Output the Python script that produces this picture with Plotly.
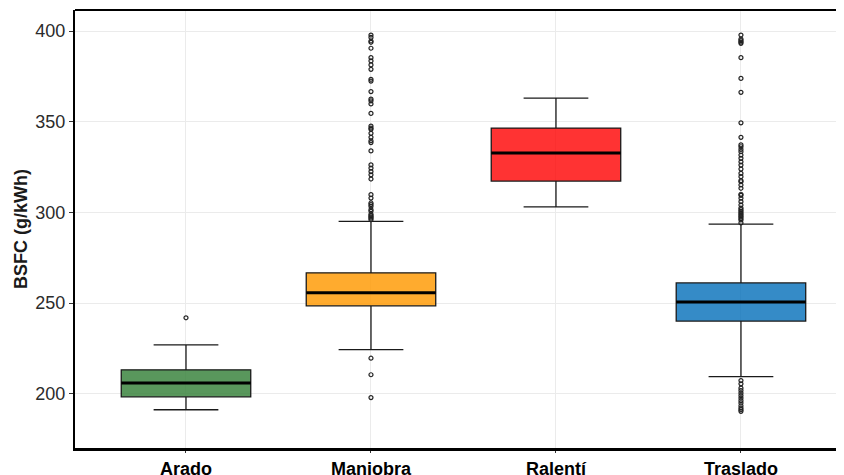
import plotly.graph_objects as go

categories = ["Arado", "Maniobra", "Ralentí", "Traslado"]
q1 = [198.3, 248.5, 317.3, 240.1]
median = [206.0, 255.7, 332.7, 250.6]
q3 = [213.2, 266.7, 346.5, 261.1]
lower_whisker = [191.2, 224.3, 303.0, 209.5]
upper_whisker = [227.0, 295.0, 363.0, 293.5]

outliers_arado = [241.9]
outliers_maniobra = [397.8, 396.5, 394.5, 393.8, 390.5, 385.3, 383.5, 381.3, 378.9, 373.4,
                     372.4, 366.6, 362.5, 361.5, 359.8, 354.6, 347.6, 346.5, 345.8, 343.6,
                     341.4, 339.5, 338.5, 333.9, 326.2, 324.4, 322.5, 320.7, 318.4, 309.8,
                     307.9, 305.2, 304.3, 303.3, 301.5, 300.6, 299.0, 298.2, 297.5, 296.8,
                     296.0, 219.6, 210.5, 197.9]
outliers_ralenti = []
outliers_traslado = [397.8, 395.5, 394.7, 393.9, 393.2, 385.3, 373.9, 366.2, 349.4, 341.4,
                     337.2, 336.2, 334.8, 333.5, 331.6, 329.8, 327.9, 326.1, 323.9, 321.5,
                     319.7, 317.5, 316.9, 315.1, 313.3, 310.0, 309.4, 307.8, 305.9, 304.1,
                     302.4, 301.5, 300.6, 299.8, 299.0, 298.2, 297.4, 296.6, 295.8, 294.2,
                     207.3, 205.5, 203.1, 201.8, 200.4, 199.0, 197.6, 196.2, 194.9, 193.4,
                     192.1, 191.2, 190.3]
outliers = [outliers_arado, outliers_maniobra, outliers_ralenti, outliers_traslado]

fill_colors = ["rgba(52,128,56,0.82)", "rgba(255,152,0,0.82)",
               "rgba(255,0,0,0.80)", "rgba(2,110,185,0.80)"]

y_ticks = [200, 250, 300, 350, 400]
box_width = 0.7

fig = go.Figure()
for i, cat in enumerate(categories):
    fig.add_trace(go.Box(
        x=[i], q1=[q1[i]], median=[median[i]], q3=[q3[i]],
        lowerfence=[lower_whisker[i]], upperfence=[upper_whisker[i]],
        width=box_width, fillcolor=fill_colors[i],
        line=dict(color="#1a1a1a", width=1.3),
        boxpoints=False, showlegend=False, name=cat, hoverinfo="skip",
    ))
    fig.add_trace(go.Scatter(
        x=[i - box_width / 2, i + box_width / 2], y=[median[i], median[i]],
        mode="lines", line=dict(color="black", width=3),
        showlegend=False, hoverinfo="skip",
    ))
    if outliers[i]:
        fig.add_trace(go.Scatter(
            x=[i] * len(outliers[i]), y=outliers[i], mode="markers",
            marker=dict(symbol="circle-open", size=4, color="#222222",
                        line=dict(width=1.2, color="#222222")),
            showlegend=False, hoverinfo="skip",
        ))

fig.update_layout(
    width=836, height=467,
    margin=dict(l=67, r=0, t=2, b=27, autoexpand=False),
    paper_bgcolor="white", plot_bgcolor="white",
    font=dict(family="Liberation Sans, Arial, sans-serif", color="#2b2b2b"),
    xaxis=dict(
        automargin=False,
        range=[-0.6, 3.557],
        tickmode="array", tickvals=list(range(len(categories))),
        ticktext=["<b>%s</b>" % c for c in categories],
        tickfont=dict(size=18, color="black"),
        showgrid=True, gridcolor="#ebebeb", gridwidth=1,
        zeroline=False,
        showline=True, linecolor="black", linewidth=3,
        ticks="outside", ticklen=2, tickcolor="#333333", tickwidth=1,
    ),
    yaxis=dict(
        automargin=False,
        range=[170.1, 411.6],
        tickmode="array", tickvals=y_ticks,
        tickfont=dict(size=18, color="#2b2b2b"),
        title=dict(text="<b>BSFC (g/kWh)</b>", font=dict(size=18, color="#1a1a1a"), standoff=3),
        showgrid=True, gridcolor="#ebebeb", gridwidth=1,
        zeroline=False,
        showline=True, linecolor="black", linewidth=2,
        ticks="outside", ticklen=4, tickcolor="#333333", tickwidth=1,
    ),
    shapes=[dict(type="line", xref="paper", yref="paper", x0=0, x1=1, y0=1, y1=1,
                 line=dict(color="black", width=2))],
)

fig.write_html("out.html")
